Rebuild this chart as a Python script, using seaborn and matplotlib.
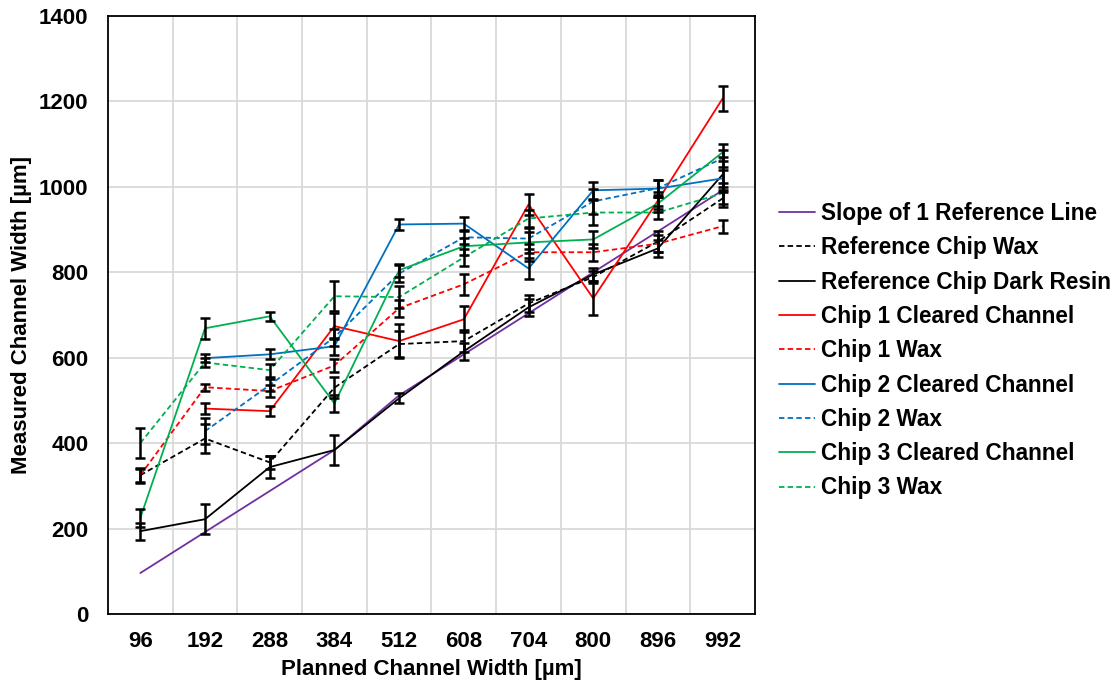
import numpy as np
import pandas as pd
import matplotlib
matplotlib.use("Agg")
import matplotlib.pyplot as plt
import seaborn as sns

# planned widths (categories on the x axis)
planned = [96, 192, 288, 384, 512, 608, 704, 800, 896, 992]

slope_ref = [96, 192, 288, 384, 512, 608, 704, 800, 896, 992]
ref_wax = [325, 411, 355, 530, 632, 639, 727, 789, 872, 973]
ref_wax_err = [18, 35, 15, 25, 30, 25, 20, 15, 25, 20]
ref_resin = [194, 222, 344, 384, 505, 615, 718, 795, 856, 1029]
ref_resin_err = [20, 35, 25, 35, 12, 20, 20, 15, 20, 40]
chip1_clear = [np.nan, 481, 475, 674, 639, 690, 959, 739, 968, 1207]
chip1_clear_err = [np.nan, 12, 12, 30, 40, 30, 25, 40, 20, 30]
chip1_wax = [325, 531, 522, 582, 716, 772, 847, 847, 867, 908]
chip1_wax_err = [15, 8, 15, 15, 20, 25, 20, 20, 20, 15]
chip2_clear = [np.nan, 599, 608, 627, 912, 914, 809, 992, 996, 1020]
chip2_clear_err = [np.nan, 10, 12, 20, 12, 15, 25, 20, 20, 20]
chip2_wax = [np.nan, 428, 536, 648, 797, 882, 879, 966, 997, 1067]
chip2_wax_err = [np.nan, 30, 15, 20, 20, 15, 25, 30, 20, 20]
chip3_clear = [225, 669, 697, 493, 805, 861, 870, 877, 961, 1081]
chip3_clear_err = [22, 25, 10, 20, 15, 20, 25, 20, 20, 20]
chip3_wax = [400, 589, 571, 744, 742, 835, 926, 940, 940, 985]
chip3_wax_err = [35, 10, 15, 35, 25, 20, 20, 30, 15, 25]

series = [
    ("Slope of 1 Reference Line", slope_ref, None, "#7030A0", "-"),
    ("Reference Chip Wax", ref_wax, ref_wax_err, "black", "--"),
    ("Reference Chip Dark Resin", ref_resin, ref_resin_err, "black", "-"),
    ("Chip 1 Cleared Channel", chip1_clear, chip1_clear_err, "#FF0000", "-"),
    ("Chip 1 Wax", chip1_wax, chip1_wax_err, "#FF0000", "--"),
    ("Chip 2 Cleared Channel", chip2_clear, chip2_clear_err, "#0070C0", "-"),
    ("Chip 2 Wax", chip2_wax, chip2_wax_err, "#0070C0", "--"),
    ("Chip 3 Cleared Channel", chip3_clear, chip3_clear_err, "#00B050", "-"),
    ("Chip 3 Wax", chip3_wax, chip3_wax_err, "#00B050", "--"),
]

sns.set_style("white")
plt.rcParams["font.family"] = ["Liberation Sans", "DejaVu Sans"]
plt.rcParams["font.weight"] = "bold"
plt.rcParams["text.color"] = "black"
plt.rcParams["axes.labelcolor"] = "black"
plt.rcParams["xtick.color"] = "black"
plt.rcParams["ytick.color"] = "black"

fig = plt.figure(figsize=(11.2, 6.85), dpi=100)
ax = fig.add_axes([0.0964, 0.1036, 0.5777, 0.873])

pos = np.arange(len(planned))
for name, vals, errs, color, ls in series:
    df = pd.DataFrame({"x": pos, "y": vals})
    if errs is not None:
        df["err"] = errs
    df = df.dropna()
    sns.lineplot(data=df, x="x", y="y", ax=ax, color=color, linewidth=1.3,
                 label=name, zorder=2)
    line = ax.get_lines()[-1]
    if ls == "--":
        line.set_dashes((3, 1.8))
    if errs is not None:
        ax.errorbar(df["x"], df["y"], yerr=df["err"], fmt="none", ecolor="black",
                    elinewidth=1.8, capsize=3.5, capthick=1.8, zorder=3)

ax.set_xlim(-0.5, len(planned) - 0.5)
ax.set_ylim(0, 1400)
ax.set_xticks(pos)
ax.set_xticklabels([str(p) for p in planned])
ax.set_xticks(pos[:-1] + 0.5, minor=True)
ax.set_yticks(range(0, 1401, 200))
ax.tick_params(axis="x", which="major", length=0, pad=12, labelsize=16)
ax.tick_params(axis="x", which="minor", direction="in", length=5, width=1.3, color="black")
ax.tick_params(axis="y", direction="in", length=5, width=1.3, color="black", pad=14, labelsize=16)
ax.grid(False)
ax.grid(True, which="minor", axis="x", color="#D9D9D9", linewidth=1.3)
ax.grid(True, which="major", axis="y", color="#D9D9D9", linewidth=1.3)
ax.set_axisbelow(True)
for side in ax.spines.values():
    side.set_color("black")
    side.set_linewidth(1.3)

ax.set_xlabel("Planned Channel Width [µm]", fontsize=16, fontweight="bold", labelpad=5)
ax.set_ylabel("Measured Channel Width [µm]", fontsize=16, fontweight="bold", labelpad=5)

leg = ax.legend(loc="center left", bbox_to_anchor=(0.6875, 0.488),
                bbox_transform=fig.transFigure, frameon=False,
                prop={"family": "Liberation Sans", "weight": "bold", "size": 16.3},
                handlelength=1.6, handletextpad=0.25, labelspacing=0.5,
                borderaxespad=0)
for h in leg.get_lines():
    h.set_linewidth(1.3)

fig.savefig("out.png", dpi=100)
